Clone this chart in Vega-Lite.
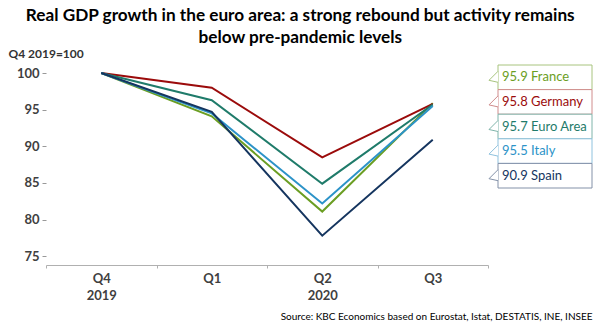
{
  "$schema": "https://vega.github.io/schema/vega-lite/v6.json",
  "padding": {"left": 8, "top": 6, "right": 8, "bottom": 5},
  "bounds": "flush",
  "spacing": 10,
  "background": "white",
  "config": {"view": {"stroke": null}, "font": "Lato"},
  "title": {
    "text": ["Real GDP growth in the euro area: a strong rebound but activity remains", "below pre-pandemic levels"],
    "font": "Lato", "fontSize": 17.2, "fontWeight": "bold", "color": "#000000",
    "anchor": "middle", "frame": "bounds", "lineHeight": 22, "offset": 1
  },
  "datasets": {
    "gdp": [
      {"quarter": "Q4", "country": "France", "value": 100},
      {"quarter": "Q1", "country": "France", "value": 94.1},
      {"quarter": "Q2", "country": "France", "value": 81.1},
      {"quarter": "Q3", "country": "France", "value": 95.9},
      {"quarter": "Q4", "country": "Germany", "value": 100},
      {"quarter": "Q1", "country": "Germany", "value": 98.0},
      {"quarter": "Q2", "country": "Germany", "value": 88.5},
      {"quarter": "Q3", "country": "Germany", "value": 95.8},
      {"quarter": "Q4", "country": "Euro Area", "value": 100},
      {"quarter": "Q1", "country": "Euro Area", "value": 96.3},
      {"quarter": "Q2", "country": "Euro Area", "value": 84.9},
      {"quarter": "Q3", "country": "Euro Area", "value": 95.7},
      {"quarter": "Q4", "country": "Italy", "value": 100},
      {"quarter": "Q1", "country": "Italy", "value": 94.5},
      {"quarter": "Q2", "country": "Italy", "value": 82.2},
      {"quarter": "Q3", "country": "Italy", "value": 95.5},
      {"quarter": "Q4", "country": "Spain", "value": 100},
      {"quarter": "Q1", "country": "Spain", "value": 94.7},
      {"quarter": "Q2", "country": "Spain", "value": 77.8},
      {"quarter": "Q3", "country": "Spain", "value": 90.9}
    ],
    "labels": [
      {"country": "France", "label": "95.9 France"},
      {"country": "Germany", "label": "95.8 Germany"},
      {"country": "Euro Area", "label": "95.7 Euro Area"},
      {"country": "Italy", "label": "95.5 Italy"},
      {"country": "Spain", "label": "90.9 Spain"}
    ]
  },
  "hconcat": [
    {
      "width": 442,
      "height": 200,
      "data": {"name": "gdp"},
      "mark": {"type": "line", "strokeWidth": 2},
      "encoding": {
        "x": {
          "field": "quarter", "type": "ordinal",
          "scale": {"type": "band", "domain": ["Q4", "Q1", "Q2", "Q3"], "paddingInner": 0, "paddingOuter": 0},
          "axis": {
            "title": null, "labelAngle": 0, "tickBand": "extent",
            "labelExpr": "datum.value == 'Q4' ? ['Q4', '2019'] : datum.value == 'Q2' ? ['Q2', '2020'] : datum.value",
            "labelFontSize": 13, "labelFontWeight": "bold", "labelColor": "#404040",
            "labelLineHeight": 17, "labelPadding": 4,
            "domainColor": "#b0b0b0", "tickColor": "#b0b0b0", "tickSize": 3
          }
        },
        "y": {
          "field": "value", "type": "quantitative",
          "scale": {"domain": [73.8, 101.1], "nice": false, "zero": false},
          "axis": {
            "values": [75, 80, 85, 90, 95, 100], "domain": false, "grid": false,
            "tickColor": "#999999", "tickSize": 4,
            "labelFontSize": 13, "labelFontWeight": "bold", "labelColor": "#404040", "labelPadding": 3,
            "title": "Q4 2019=100", "titleAngle": 0, "titleAlign": "left", "titleBaseline": "alphabetic",
            "titleX": -38, "titleY": -8, "titleFontSize": 12, "titleFontWeight": "bold", "titleColor": "#333333"
          }
        },
        "color": {
          "field": "country", "type": "nominal",
          "scale": {"domain": ["France", "Germany", "Euro Area", "Italy", "Spain"], "range": ["#6b9e23", "#9b0b0b", "#1f7b6a", "#2c93c8", "#15355f"]},
          "legend": null
        }
      }
    },
    {
      "width": 94,
      "height": 123,
      "data": {"name": "labels"},
      "title": {"text": "Source: KBC Economics based on Eurostat, Istat, DESTATIS, INE, INSEE", "orient": "bottom", "anchor": "end", "offset": 123, "fontSize": 10, "fontWeight": "normal", "color": "#000000", "font": "Lato"},
      "encoding": {
        "y": {"field": "country", "type": "nominal", "scale": {"domain": ["France", "Germany", "Euro Area", "Italy", "Spain"], "paddingInner": 0, "paddingOuter": 0}, "axis": null}
      },
      "layer": [
        {
          "mark": {"type": "rect", "fill": "white", "strokeWidth": 1},
          "encoding": {
            "stroke": {"field": "country", "type": "nominal", "scale": {"domain": ["France", "Germany", "Euro Area", "Italy", "Spain"], "range": ["#a8c47e", "#d08c8c", "#7fb4aa", "#8fc2de", "#8391a8"]}, "legend": null}
          }
        },
        {
          "mark": {"type": "point", "shape": "M0,-1.2L-1.8,0.6L0,1", "filled": false, "fill": "white", "fillOpacity": 1, "strokeWidth": 1, "size": 100, "opacity": 1},
          "encoding": {
            "x": {"value": 0},
            "stroke": {"field": "country", "type": "nominal", "legend": null}
          }
        },
        {
          "mark": {"type": "text", "align": "left", "baseline": "middle", "dx": 4, "fontSize": 13, "font": "Lato"},
          "encoding": {
            "x": {"value": 0},
            "text": {"field": "label"},
            "color": {"field": "country", "type": "nominal", "legend": null}
          }
        }
      ]
    }
  ]
}
